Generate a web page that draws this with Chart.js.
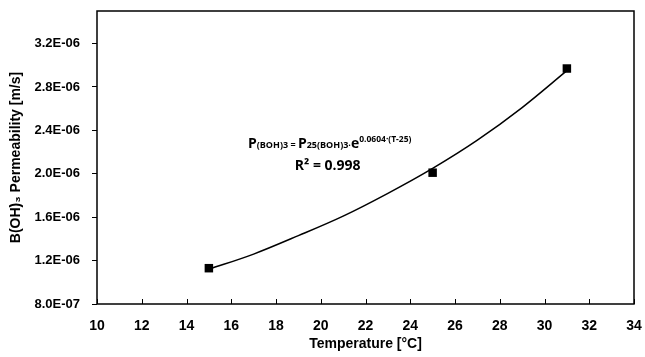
<!DOCTYPE html>
<html>
<head>
<meta charset="utf-8">
<script src="https://cdn.jsdelivr.net/npm/chart.js@4.4.1/dist/chart.umd.min.js"></script>
<style>
  html, body { margin: 0; padding: 0; background: #fff; }
  #wrap { width: 645px; height: 357px; }
</style>
</head>
<body>
<div id="wrap"><canvas id="chart" width="645" height="357"></canvas></div>
<script>
// measured permeability points
const temps = [15, 25, 31];
const perm = [1.13e-6, 2.01e-6, 2.97e-6];

// exponential trend line
const trendT = [15, 17, 19, 21, 23, 25, 27, 29, 31];
const trendP = [1.12e-6, 1.26e-6, 1.43e-6, 1.61e-6, 1.82e-6, 2.05e-6, 2.31e-6, 2.61e-6, 2.95e-6];

// axis ticks
const xTicks = [10, 12, 14, 16, 18, 20, 22, 24, 26, 28, 30, 32, 34];
const yTicks = [8e-7, 1.2e-6, 1.6e-6, 2.0e-6, 2.4e-6, 2.8e-6, 3.2e-6];

// where the fit label sits, in data units
const labelAt = { x: 20.4, y: 2.24e-6 };

function sci(v) {
  const [m, e] = v.toExponential(1).toUpperCase().split('E');
  const n = parseInt(e, 10);
  return m + 'E' + (n < 0 ? '-' : '+') + String(Math.abs(n)).padStart(2, '0');
}

const tickFont = { family: 'Liberation Sans, Arial, sans-serif', size: 13, weight: 'bold' };
const titleFont = { family: 'Liberation Sans, Arial, sans-serif', size: 14, weight: 'bold' };

// frame round the plot, inward x ticks, and the fit label
const framePlugin = {
  id: 'frame',
  afterDraw(chart) {
    const { ctx, chartArea: a, scales: { x, y } } = chart;
    ctx.save();
    ctx.strokeStyle = '#000';
    ctx.lineWidth = 1.5;
    ctx.strokeRect(a.left, a.top, a.right - a.left, a.bottom - a.top);
    ctx.lineWidth = 1;
    xTicks.forEach(t => {
      const px = Math.round(x.getPixelForValue(t)) + 0.5;
      ctx.beginPath();
      ctx.moveTo(px, a.bottom);
      ctx.lineTo(px, a.bottom - 5);
      ctx.stroke();
    });

    // equation: mixed sizes
    const fam = 'Open Sans, Lato, sans-serif';
    const parts = [
      { t: 'P', s: 14 }, { t: '(BOH)3', s: 9 }, { t: ' = ', s: 9 },
      { t: 'P', s: 14 }, { t: '25(BOH)3·', s: 9 }, { t: 'e', s: 14 },
      { t: '0.0604·(T-25)', s: 8.5, up: 6 }
    ];
    let w = 0;
    parts.forEach(p => { ctx.font = `bold ${p.s}px ${fam}`; p.w = ctx.measureText(p.t).width; w += p.w; });
    const cx = x.getPixelForValue(labelAt.x);
    const cy = y.getPixelForValue(labelAt.y);
    let px = cx - w / 2;
    ctx.fillStyle = '#000';
    ctx.textBaseline = 'alphabetic';
    ctx.textAlign = 'left';
    parts.forEach(p => {
      ctx.font = `bold ${p.s}px ${fam}`;
      ctx.fillText(p.t, px, cy - (p.up || 0));
      px += p.w;
    });
    ctx.font = `bold 14px ${fam}`;
    ctx.textAlign = 'center';
    ctx.fillText('R² = 0.998', cx - 2, cy + 22);
    ctx.restore();
  }
};

new Chart(document.getElementById('chart'), {
  type: 'scatter',
  data: {
    datasets: [
      {
        label: 'Trend',
        data: trendT.map((t, i) => ({ x: t, y: trendP[i] })),
        showLine: true,
        borderColor: '#000',
        borderWidth: 1.5,
        pointRadius: 0,
        cubicInterpolationMode: 'monotone',
        order: 2
      },
      {
        label: 'Measured',
        data: temps.map((t, i) => ({ x: t, y: perm[i] })),
        pointStyle: 'rect',
        pointRadius: 6,
        backgroundColor: '#000',
        borderColor: '#000',
        borderWidth: 0,
        order: 1
      }
    ]
  },
  options: {
    responsive: false,
    animation: false,
    layout: { padding: { left: 0, top: 11, right: 11, bottom: 0 } },
    plugins: { legend: { display: false }, tooltip: { enabled: false } },
    scales: {
      x: {
        type: 'linear',
        min: 10,
        max: 34,
        afterBuildTicks: s => { s.ticks = xTicks.map(v => ({ value: v })); },
        afterFit: s => { s.height = 53; s.paddingLeft = 0; s.paddingRight = 0; },
        grid: { display: false },
        border: { display: false },
        ticks: { color: '#000', font: { ...tickFont, size: 14 }, padding: 6, maxRotation: 0, autoSkip: false },
        title: { display: true, text: 'Temperature [°C]', color: '#000', font: titleFont, padding: { top: 2 } }
      },
      y: {
        type: 'linear',
        min: 8e-7,
        max: 3.5e-6,
        afterBuildTicks: s => { s.ticks = yTicks.map(v => ({ value: v })); },
        afterFit: s => { s.width = 97; s.paddingTop = 0; s.paddingBottom = 0; },
        grid: { drawOnChartArea: false, tickLength: 5, color: '#000', lineWidth: 1 },
        border: { display: false },
        ticks: { color: '#000', font: tickFont, padding: 12, autoSkip: false, callback: v => sci(v) },
        title: { display: true, text: 'B(OH)₃ Permeability [m/s]', color: '#000', font: titleFont, padding: { top: 8, bottom: 2 } }
      }
    }
  },
  plugins: [framePlugin]
});
</script>
</body>
</html>
